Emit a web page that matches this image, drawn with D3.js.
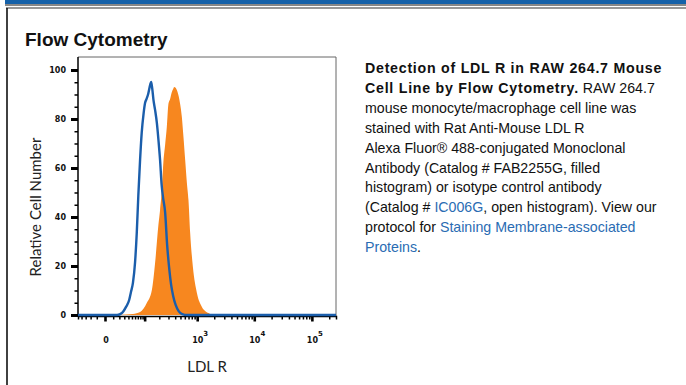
<!DOCTYPE html>
<html>
<head>
<meta charset="utf-8">
<script src="https://cdn.jsdelivr.net/npm/d3@7/dist/d3.min.js"></script>
<style>
  html, body { margin: 0; padding: 0; background: #fff; }
  svg { display: block; }
</style>
</head>
<body>
<svg id="chart" width="686" height="385"></svg>
<script>
// Histogram of the isotype control (open, blue outline): fluorescence intensity vs relative count
const isotypeIntensity = [-50, 8, 16, 25, 34, 42, 47, 53, 60, 66, 72, 79, 86, 95, 102, 110, 119, 131, 137, 144, 153, 165, 179, 194, 207, 222, 237, 259, 283, 309, 337, 367, 408, 463, 537, 662, 262144];
const isotypeCount = [0, 0, 0, 0.8, 3.3, 6.1, 9.4, 13.1, 21.6, 33.5, 49.0, 63.3, 74.3, 82.4, 86.5, 88.2, 90.2, 93.9, 95.1, 92.7, 87.8, 83.7, 78.4, 70.6, 63.3, 53.1, 47.8, 42.0, 28.6, 19.2, 12.2, 7.8, 4.1, 1.6, 0.4, 0, 0];

// Histogram of the LDL R stained cells (filled, orange)
const ldlrIntensity = [-6, 13, 32, 53, 79, 111, 142, 165, 192, 207, 224, 240, 259, 279, 299, 322, 347, 367, 383, 408, 429, 479, 530, 567, 609, 654, 698, 749, 838, 988, 1213, 1587, 1921, 2550];
const ldlrCount = [0, 0, 0.2, 0.4, 1.2, 4.9, 10.2, 21.2, 36.7, 42.9, 51.0, 62.4, 69.4, 76.7, 86.1, 88.2, 91.0, 92.2, 93.1, 92.7, 91.8, 87.8, 80.8, 72.7, 63.3, 53.9, 46.9, 33.5, 19.6, 9.0, 3.3, 0.8, 0, 0];

// Axis tick labels
const yTickLabels = [0, 20, 40, 60, 80, 100];
const xTickLabels = [
  { value: 0, base: "0", exp: "" },
  { value: 1000, base: "10", exp: "3" },
  { value: 10000, base: "10", exp: "4" },
  { value: 100000, base: "10", exp: "5" }
];

const titleText = "Flow Cytometry";
const xAxisTitle = "LDL R";
const yAxisTitle = "Relative Cell Number";

// Caption: each line is a list of [text, style] runs
const captionLines = [
  [["Detection of LDL R in RAW 264.7 Mouse", "b"]],
  [["Cell Line by Flow Cytometry.", "b"], [" RAW 264.7", ""]],
  [["mouse monocyte/macrophage cell line was", ""]],
  [["stained with Rat Anti-Mouse LDL R", ""]],
  [["Alexa Fluor® 488-conjugated Monoclonal", ""]],
  [["Antibody (Catalog # FAB2255G, filled", ""]],
  [["histogram) or isotype control antibody", ""]],
  [["(Catalog # ", ""], ["IC006G", "a"], [", open histogram). View our", ""]],
  [["protocol for ", ""], ["Staining Membrane-associated", "a"]],
  [["Proteins", "a"], [".", ""]]
];

const svg = d3.select("#chart");

// Page chrome: top band, rule and panel outline
svg.append("rect").attr("x", 5).attr("y", 0).attr("width", 681).attr("height", 4).attr("fill", "#1561a9");
svg.append("line").attr("x1", 5).attr("x2", 686).attr("y1", 5).attr("y2", 5).attr("stroke", "#111").attr("stroke-width", 1);
svg.append("line").attr("x1", 6).attr("x2", 686).attr("y1", 8).attr("y2", 8).attr("stroke", "#333").attr("stroke-width", 1.2);
svg.append("line").attr("x1", 7).attr("x2", 7).attr("y1", 8).attr("y2", 385).attr("stroke", "#111").attr("stroke-width", 1.6);

svg.append("text")
  .attr("x", 25).attr("y", 46)
  .attr("font-family", "'Liberation Sans', Arial, sans-serif")
  .attr("font-weight", "bold")
  .attr("font-size", 19)
  .attr("fill", "#111")
  .text(titleText);

// Plot area
const plotLeft = 78, plotRight = 336, plotTop = 57, plotBottom = 315;

const x = d3.scaleSymlog().constant(25.8).domain([-50, 262144]).range([plotLeft, plotRight]);
const y = d3.scaleLinear().domain([0, 105.3]).range([plotBottom, plotTop]);

// Frame
svg.append("line").attr("x1", plotLeft).attr("x2", plotRight).attr("y1", plotTop).attr("y2", plotTop).attr("stroke", "#666").attr("stroke-width", 1);
svg.append("line").attr("x1", plotRight).attr("x2", plotRight).attr("y1", plotTop).attr("y2", plotBottom + 1).attr("stroke", "#666").attr("stroke-width", 1);

// Filled histogram
const ldlr = ldlrIntensity.map((v, i) => [v, ldlrCount[i]]);
svg.append("path")
  .datum(ldlr)
  .attr("fill", "#f7871f")
  .attr("d", d3.area().x(d => x(d[0])).y0(y(0)).y1(d => y(d[1])).curve(d3.curveMonotoneX));

// X axis ticks (biexponential-style: linear-ish near zero, log decades above)
const xMinor = [];
[-10, -20, -30, -40].forEach(v => xMinor.push(v));
for (let dec = 10; dec <= 100000; dec *= 10) {
  for (let m = 1; m <= 9; m++) {
    const v = m * dec;
    if (v <= 262144 && !(m === 1 && dec >= 100)) xMinor.push(v);
  }
}
const xMajor = [0, 100, 1000, 10000, 100000];

const xAxisMinor = d3.axisBottom(x).tickValues(xMinor).tickSize(3.5).tickFormat("");
const xAxisMajor = d3.axisBottom(x).tickValues(xMajor).tickSize(5.5).tickFormat("");

const gxMinor = svg.append("g").attr("transform", `translate(0,${plotBottom + 1})`).call(xAxisMinor);
gxMinor.select(".domain").attr("stroke", "#000").attr("stroke-width", 1.5);
gxMinor.selectAll(".tick line").attr("stroke", "#000").attr("stroke-width", 1.5);
const gxMajor = svg.append("g").attr("transform", `translate(0,${plotBottom + 1})`).call(xAxisMajor);
gxMajor.select(".domain").remove();
gxMajor.selectAll(".tick line").attr("stroke", "#000").attr("stroke-width", 2.6);

// Y axis
const yMinor = d3.range(5, 101, 5).filter(v => v % 20 !== 0);
const yAxisMinor = d3.axisLeft(y).tickValues(yMinor).tickSize(3.5).tickFormat("");
const yAxisMajor = d3.axisLeft(y).tickValues(yTickLabels).tickSize(7).tickFormat(d3.format("d")).tickPadding(5);

const gyMinor = svg.append("g").attr("transform", `translate(${plotLeft},0)`).call(yAxisMinor);
gyMinor.select(".domain").attr("d", `M0,${plotTop}V${plotBottom + 1.5}`).attr("stroke", "#000").attr("stroke-width", 1.5);
gyMinor.selectAll(".tick line").attr("stroke", "#000").attr("stroke-width", 1.5);
const gyMajor = svg.append("g").attr("transform", `translate(${plotLeft},0)`).call(yAxisMajor);
gyMajor.select(".domain").remove();
gyMajor.selectAll(".tick line").attr("stroke", "#000").attr("stroke-width", 3);
gyMajor.selectAll(".tick text")
  .attr("font-family", "'DejaVu Sans', sans-serif")
  .attr("font-weight", "bold")
  .attr("font-size", 8)
  .attr("fill", "#111");

// Open histogram
const iso = isotypeIntensity.map((v, i) => [v, isotypeCount[i]]);
svg.append("path")
  .datum(iso)
  .attr("fill", "none")
  .attr("stroke", "#1b5eab")
  .attr("stroke-width", 2.4)
  .attr("stroke-linejoin", "round")
  .attr("d", d3.line().x(d => x(d[0])).y(d => y(d[1])).curve(d3.curveMonotoneX));

// X tick labels with superscript exponents
const xl = svg.append("g")
  .attr("font-family", "'DejaVu Sans', sans-serif")
  .attr("font-weight", "bold")
  .attr("font-size", 8)
  .attr("fill", "#111");
xTickLabels.forEach(t => {
  const txt = xl.append("text")
    .attr("x", x(t.value) + (t.exp ? 3 : 1))
    .attr("y", 343)
    .attr("text-anchor", "middle");
  txt.append("tspan").text(t.base);
  if (t.exp) {
    txt.append("tspan").attr("dy", -7).attr("font-size", 7).text(t.exp);
  }
});

// Axis titles
svg.append("text")
  .attr("x", 207).attr("y", 372)
  .attr("text-anchor", "middle")
  .attr("font-family", "Lato, sans-serif")
  .attr("font-size", 15)
  .attr("fill", "#222")
  .text(xAxisTitle);

svg.append("text")
  .attr("transform", "translate(41,207) rotate(-90)")
  .attr("text-anchor", "middle")
  .attr("font-family", "Lato, sans-serif")
  .attr("font-size", 15)
  .attr("fill", "#222")
  .text(yAxisTitle);

// Caption
const cap = svg.append("g")
  .attr("font-family", "'Liberation Sans', Arial, sans-serif")
  .attr("font-size", 14.2)
  .attr("fill", "#111");
captionLines.forEach((runs, i) => {
  const t = cap.append("text").attr("x", 365).attr("y", 73 + i * 19.9);
  runs.forEach(([s, style]) => {
    const sp = t.append("tspan").text(s);
    if (style === "b") sp.attr("font-weight", "bold").attr("letter-spacing", 0.75);
    if (style === "a") sp.attr("fill", "#2a6cb3");
  });
});
</script>
</body>
</html>
